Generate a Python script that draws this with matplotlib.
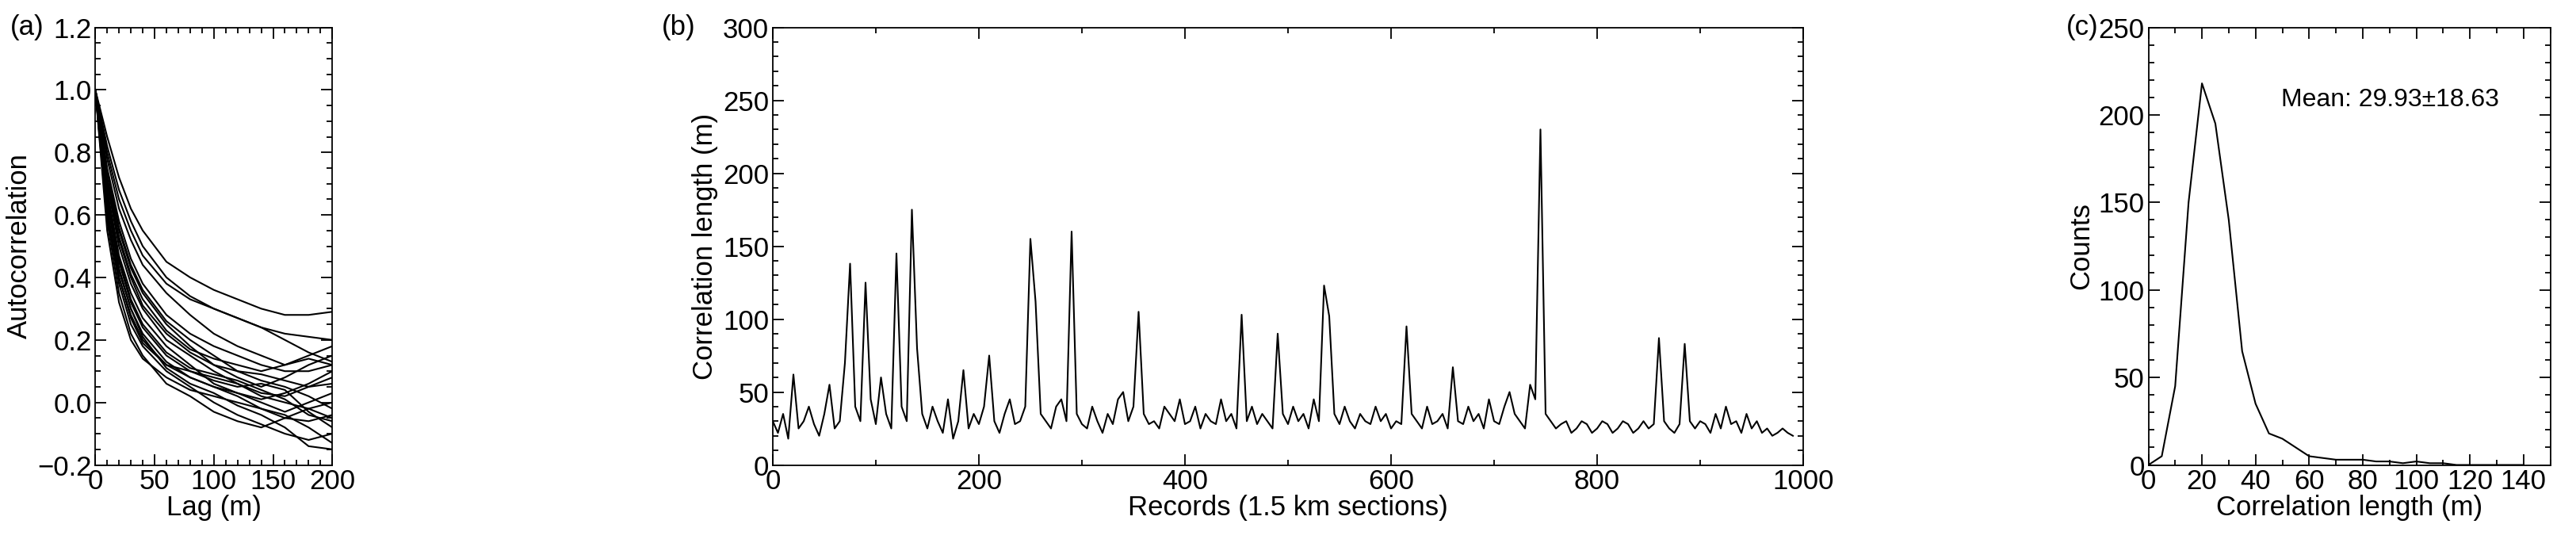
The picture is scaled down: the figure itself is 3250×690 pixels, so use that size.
import matplotlib
matplotlib.use("Agg")
import matplotlib.pyplot as plt
from matplotlib.ticker import AutoMinorLocator
import numpy as np

plt.rcParams["font.family"] = ["Liberation Sans", "DejaVu Sans"]
plt.rcParams["font.size"] = 25

# (a) autocorrelation curves, read at these lags
lags = [0, 10, 20, 30, 40, 60, 80, 100, 120, 140, 160, 180, 200]
acf_curves = [
    [1, .85, .72, .62, .55, .45, .40, .36, .33, .30, .28, .28, .29],
    [1, .80, .65, .55, .47, .38, .33, .30, .27, .24, .22, .21, .20],
    [1, .75, .58, .46, .38, .28, .22, .18, .15, .12, .10, .10, .12],
    [1, .70, .50, .38, .30, .20, .15, .10, .06, .03, .02, .05, .08],
    [1, .65, .42, .30, .22, .13, .08, .05, .02, -.02, -.05, -.06, -.04],
    [1, .60, .38, .25, .18, .10, .05, .00, -.04, -.07, -.10, -.12, -.10],
    [1, .55, .32, .20, .14, .08, .04, .02, .00, -.02, -.04, -.08, -.13],
    [1, .72, .55, .43, .35, .25, .18, .12, .08, .05, .08, .12, .15],
    [1, .68, .47, .35, .27, .18, .12, .06, .03, .00, -.03, .00, .03],
    [1, .62, .40, .28, .20, .12, .10, .08, .06, .02, .00, -.02, -.05],
    [1, .78, .62, .52, .44, .35, .28, .22, .18, .15, .12, .15, .18],
    [1, .58, .35, .22, .15, .06, .02, -.03, -.06, -.08, -.05, -.02, .00],
    [1, .82, .68, .58, .50, .40, .34, .30, .27, .24, .20, .16, .13],
    [1, .66, .45, .32, .24, .15, .10, .07, .05, .06, .04, -.03, -.08],
    [1, .74, .56, .44, .36, .26, .20, .15, .10, .07, .05, .02, -.02],
    [1, .64, .43, .30, .21, .11, .06, .03, -.01, -.04, -.08, -.14, -.15],
    [1, .70, .52, .40, .31, .22, .16, .12, .10, .09, .07, .05, .06],
    [1, .60, .40, .27, .19, .12, .08, .05, .03, .01, .03, .06, .10],
    [1, .67, .46, .33, .25, .16, .11, .09, .07, .04, .01, -.04, -.06],
    [1, .71, .53, .41, .33, .23, .17, .14, .12, .10, .12, .14, .12],
]

# (b) correlation length per record (every 5 records)
rec_step = 5
corr_len = [
    30, 22, 35, 18, 62, 25, 30, 40, 28, 20, 35, 55, 25, 30, 70, 138, 40, 30, 125, 45,
    28, 60, 35, 25, 145, 40, 30, 175, 80, 35, 25, 40, 30, 22, 45, 18, 30, 65, 25, 35,
    28, 40, 75, 30, 22, 35, 45, 28, 30, 40, 155, 112, 35, 30, 25, 40, 45, 30, 160, 35,
    28, 25, 40, 30, 22, 35, 28, 45, 50, 30, 40, 105, 35, 28, 30, 25, 40, 35, 30, 45,
    28, 30, 40, 25, 35, 30, 28, 45, 30, 35, 25, 103, 30, 40, 28, 35, 30, 25, 90, 35,
    28, 40, 30, 35, 25, 45, 30, 123, 102, 35, 28, 40, 30, 25, 35, 30, 28, 40, 30, 35,
    25, 30, 28, 95, 35, 30, 25, 40, 28, 30, 35, 25, 67, 30, 28, 40, 30, 35, 25, 45,
    30, 28, 40, 50, 35, 30, 25, 55, 45, 230, 35, 30, 25, 28, 30, 22, 25, 30, 28, 22,
    25, 30, 28, 22, 25, 30, 28, 22, 25, 30, 25, 28, 87, 30, 25, 22, 28, 83, 30, 25,
    30, 28, 22, 35, 25, 40, 28, 30, 22, 35, 25, 30, 22, 25, 20, 22, 25, 22, 20,
]

# (c) histogram of correlation length
hist_x = [0, 5, 10, 15, 20, 25, 30, 35, 40, 45, 50, 55, 60, 65, 70, 75, 80, 85, 90, 95, 100, 105, 110, 115, 120, 125, 130, 135, 140]
hist_n = [0, 5, 45, 150, 218, 195, 140, 65, 35, 18, 15, 10, 5, 4, 3, 3, 3, 2, 2, 1, 2, 1, 1, 0, 0, 0, 0, 0, 0]

fig = plt.figure(figsize=(32.5, 6.9), dpi=100)
ax_a = fig.add_axes([0.037, 0.15, 0.092, 0.80])
ax_b = fig.add_axes([0.300, 0.15, 0.400, 0.80])
ax_c = fig.add_axes([0.834, 0.15, 0.156, 0.80])

for c in acf_curves:
    ax_a.plot(lags, c, color="black", lw=1.5)
ax_a.set_xlim(0, 200)
ax_a.set_ylim(-0.2, 1.2)
ax_a.set_xticks([0, 50, 100, 150, 200])
ax_a.set_yticks(np.arange(-0.2, 1.21, 0.2))
ax_a.set_xlabel("Lag (m)", labelpad=0)
ax_a.set_ylabel("Autocorrelation")

recs = np.arange(len(corr_len)) * rec_step
ax_b.plot(recs, corr_len, color="black", lw=1.5)
ax_b.set_xlim(0, 1000)
ax_b.set_ylim(0, 300)
ax_b.set_xlabel("Records (1.5 km sections)", labelpad=0)
ax_b.set_ylabel("Correlation length (m)")

ax_c.plot(hist_x, hist_n, color="black", lw=1.5)
ax_c.set_xlim(0, 150)
ax_c.set_ylim(0, 250)
ax_c.set_xticks(range(0, 141, 20))
ax_c.set_xlabel("Correlation length (m)", labelpad=0)
ax_c.set_ylabel("Counts")
ax_c.text(0.33, 0.82, "Mean: 29.93\u00b118.63", transform=ax_c.transAxes, fontsize=23)

minors = {ax_a: (5, 4), ax_b: (2, 5), ax_c: (2, 5)}
for ax, (mx, my) in minors.items():
    ax.xaxis.set_minor_locator(AutoMinorLocator(mx))
    ax.yaxis.set_minor_locator(AutoMinorLocator(my))
    ax.tick_params(which="both", direction="in", top=True, right=True, width=1.3)
    ax.tick_params(which="major", length=10)
    ax.tick_params(which="minor", length=5)
    for s in ax.spines.values():
        s.set_linewidth(1.3)

for x, lab in [(0.004, "(a)"), (0.257, "(b)"), (0.802, "(c)")]:
    fig.text(x, 0.95, lab, ha="left", va="center")

fig.savefig("out.png", dpi=100, facecolor="white")
